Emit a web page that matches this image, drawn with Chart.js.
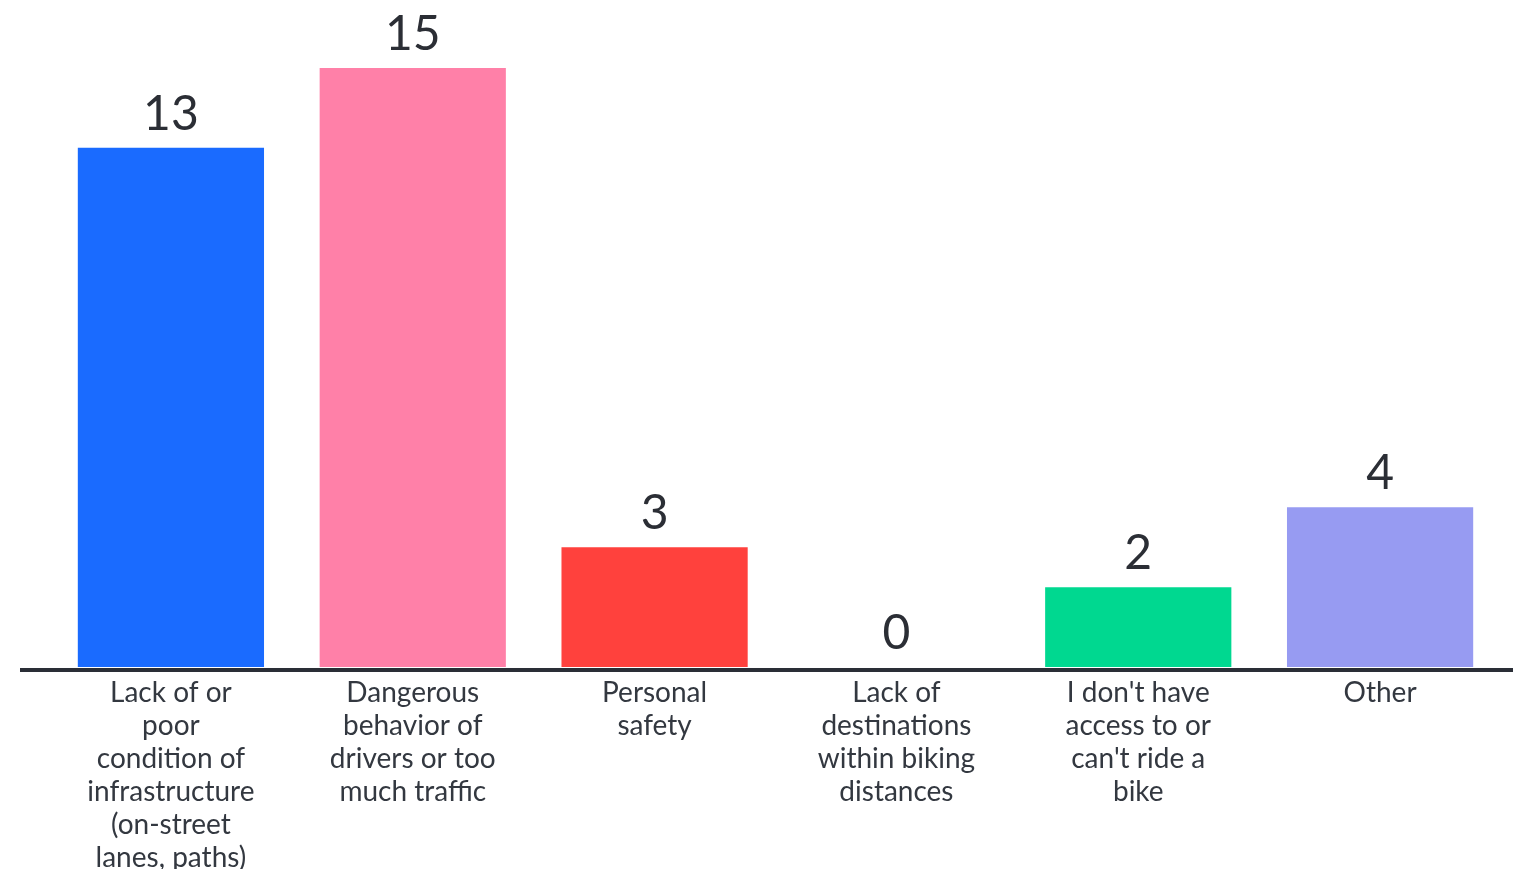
<!DOCTYPE html>
<html>
<head>
<meta charset="utf-8">
<script src="https://cdn.jsdelivr.net/npm/chart.js@4.4.1/dist/chart.umd.min.js"></script>
<style>
  html, body { margin: 0; padding: 0; background: #ffffff; }
  #wrap { width: 1513px; height: 869px; position: relative; }
</style>
</head>
<body>
<div id="wrap"><canvas id="barChart"></canvas></div>
<script>
const categories = [
  ["Lack of or", "poor", "condition of", "infrastructure", "(on-street", "lanes, paths)"],
  ["Dangerous", "behavior of", "drivers or too", "much traffic"],
  ["Personal", "safety"],
  ["Lack of", "destinations", "within biking", "distances"],
  ["I don't have", "access to or", "can't ride a", "bike"],
  ["Other"],
];
const counts = [13, 15, 3, 0, 2, 4];
const barColors = ["#1a6bff", "#ff80a8", "#ff413d", "#00d890", "#00d890", "#979bf2"];
const textColor = "#2b2e35";

// value labels above the bars
const valueLabels = {
  id: "valueLabels",
  afterDatasetsDraw(chart) {
    const ctx = chart.ctx;
    const meta = chart.getDatasetMeta(0);
    ctx.save();
    ctx.font = "48px Lato";
    ctx.fillStyle = textColor;
    ctx.textAlign = "center";
    ctx.textBaseline = "alphabetic";
    meta.data.forEach((bar, i) => {
      ctx.fillText(String(counts[i]), bar.x, bar.y - 18);
    });
    ctx.restore();
  },
};

// thick baseline running the full width
const baseLine = {
  id: "baseLine",
  afterDraw(chart) {
    const ctx = chart.ctx;
    const y = chart.chartArea.bottom + 3;
    ctx.save();
    ctx.strokeStyle = "#2a2e36";
    ctx.lineWidth = 4;
    ctx.beginPath();
    ctx.moveTo(20, y);
    ctx.lineTo(chart.width, y);
    ctx.stroke();
    ctx.restore();
  },
};

new Chart(document.getElementById("barChart"), {
  type: "bar",
  data: {
    labels: categories,
    datasets: [
      {
        data: counts,
        backgroundColor: barColors,
        borderWidth: 0,
        categoryPercentage: 1,
        barPercentage: 0.77,
      },
    ],
  },
  options: {
    responsive: true,
    maintainAspectRatio: false,
    animation: false,
    layout: { padding: { left: 50, right: 12, top: 68, bottom: 0 } },
    plugins: { legend: { display: false }, tooltip: { enabled: false } },
    scales: {
      x: {
        grid: { display: false, drawTicks: false },
        border: { display: false },
        afterFit: (s) => { s.height = 202; },
        ticks: {
          color: "#333840",
          font: { family: "Lato", size: 28, lineHeight: 1.18 },
          padding: 9,
          maxRotation: 0,
          autoSkip: false,
        },
      },
      y: {
        display: false,
        min: 0,
        max: 15,
      },
    },
  },
  plugins: [valueLabels, baseLine],
});
</script>
</body>
</html>
